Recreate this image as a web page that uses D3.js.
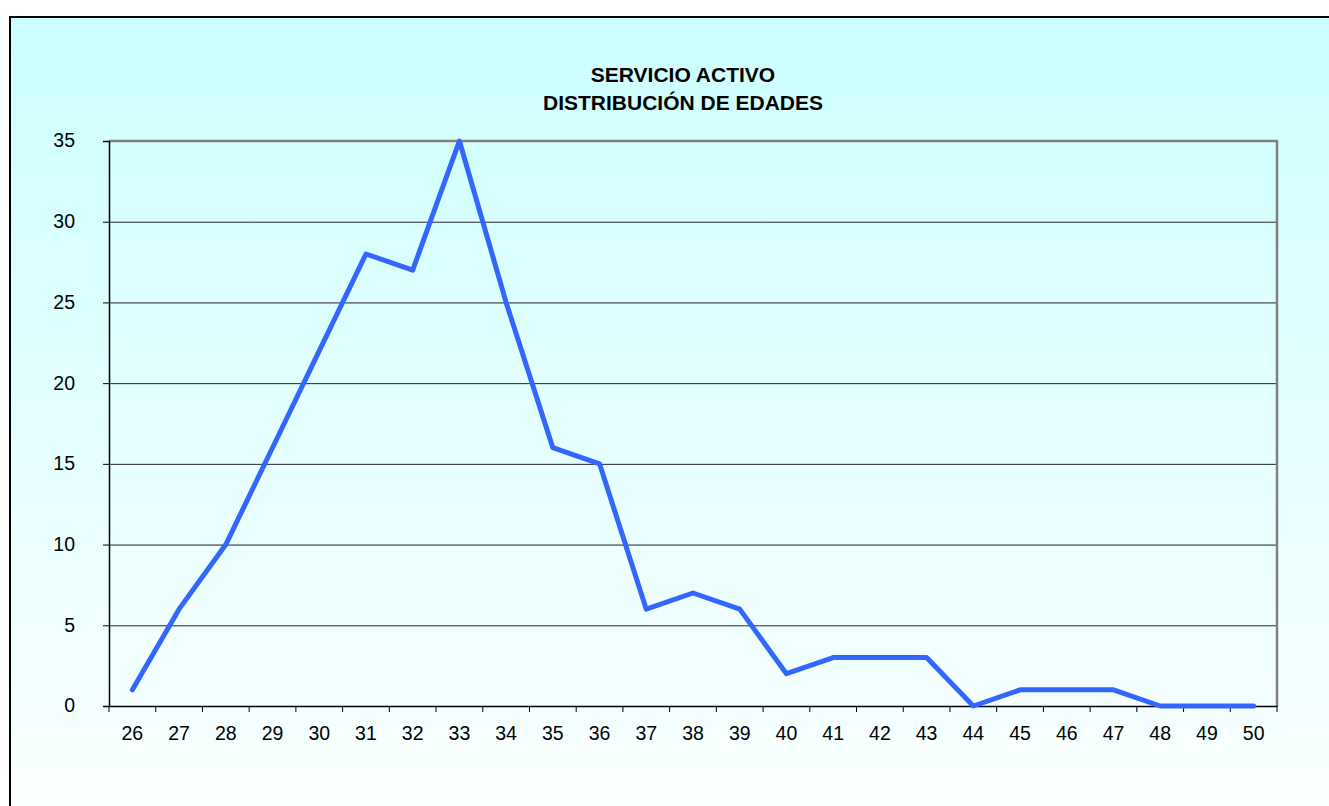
<!DOCTYPE html>
<html>
<head>
<meta charset="utf-8">
<script src="https://cdn.jsdelivr.net/npm/d3@7"></script>
<style>
    body { margin: 0; background: #ffffff; }
    svg { display: block; }
</style>
</head>
<body>
<svg id="main"></svg>
<script>
const width = 1329;
const height = 806;

// DATA -------------------------------------------
const ages = ['26', '27', '28', '29', '30', '31', '32', '33', '34', '35', '36', '37', '38',
    '39', '40', '41', '42', '43', '44', '45', '46', '47', '48', '49', '50'];
const counts = [1, 6, 10, 16, 22, 28, 27, 35, 25, 16, 15, 6, 7,
    6, 2, 3, 3, 3, 0, 1, 1, 1, 0, 0, 0];
const yTicks = [0, 5, 10, 15, 20, 25, 30, 35];
const titleLines = ['SERVICIO ACTIVO', 'DISTRIBUCIÓN DE EDADES'];

const plot = { left: 109, right: 1277, top: 141, bottom: 706 };
const font = '"Liberation Sans", Arial, sans-serif';
const tickFont = '19.5px';

const svg = d3.select('svg#main')
    .attr('width', width)
    .attr('height', height);

// background gradient
const defs = svg.append('defs');
const grad = defs.append('linearGradient')
    .attr('id', 'bg')
    .attr('x1', 0).attr('y1', 0).attr('x2', 0).attr('y2', 1);
grad.append('stop').attr('offset', '0%').attr('stop-color', '#CCFFFF');
grad.append('stop').attr('offset', '100%').attr('stop-color', '#FCFFFF');

svg.append('rect')
    .attr('x', 10).attr('y', 17)
    .attr('width', width + 20).attr('height', height)
    .attr('fill', 'url(#bg)')
    .attr('stroke', '#000')
    .attr('stroke-width', 2);

// title
svg.append('text')
    .attr('x', 683)
    .attr('y', 81.5)
    .attr('text-anchor', 'middle')
    .style('font-family', font)
    .style('font-weight', 'bold')
    .style('font-size', '21px')
    .selectAll('tspan')
    .data(titleLines).enter()
    .append('tspan')
    .attr('x', 683)
    .attr('dy', (d, i) => i === 0 ? 0 : 28.5)
    .text(d => d);

// scales
const x = d3.scaleBand()
    .domain(ages)
    .range([plot.left, plot.right]);

const y = d3.scaleLinear()
    .domain([0, 35])
    .range([plot.bottom, plot.top]);

// gridlines
svg.append('g')
    .selectAll('line')
    .data(yTicks.filter(d => d > 0 && d < 35)).enter()
    .append('line')
    .attr('x1', plot.left).attr('x2', plot.right)
    .attr('y1', d => y(d) + 0.5).attr('y2', d => y(d) + 0.5)
    .attr('stroke', '#222')
    .attr('stroke-width', 1);

// plot frame (top and right gray)
svg.append('path')
    .attr('d', `M${plot.left},${plot.top}H${plot.right}V${plot.bottom}`)
    .attr('fill', 'none')
    .attr('stroke', '#808080')
    .attr('stroke-width', 2.5);

// y axis
const yAxis = svg.append('g')
    .attr('transform', `translate(${plot.left},0)`)
    .call(d3.axisLeft(y).tickValues(yTicks).tickSize(6).tickPadding(28));
yAxis.select('.domain').attr('stroke', '#000').attr('stroke-width', 1.5);
yAxis.selectAll('.tick line').attr('stroke', '#000');
yAxis.selectAll('text')
    .style('font-family', font)
    .style('font-size', tickFont)
    .attr('fill', '#000')
    .attr('text-anchor', 'end')
    .attr('dy', '0.3em');

// x axis
const xAxis = svg.append('g')
    .attr('transform', `translate(0,${plot.bottom})`)
    .call(d3.axisBottom(x).tickSize(0).tickPadding(20));
xAxis.select('.domain').attr('stroke', '#000').attr('stroke-width', 1.5);
xAxis.selectAll('text')
    .style('font-family', font)
    .style('font-size', tickFont)
    .attr('fill', '#000');

// x tick marks at category boundaries
svg.append('g')
    .selectAll('line')
    .data(d3.range(ages.length + 1)).enter()
    .append('line')
    .attr('x1', i => plot.left + i * x.step())
    .attr('x2', i => plot.left + i * x.step())
    .attr('y1', plot.bottom)
    .attr('y2', plot.bottom + 6)
    .attr('stroke', '#000');

// series line
const line = d3.line()
    .x((d, i) => x(ages[i]) + x.bandwidth() / 2)
    .y(d => y(d));

svg.append('path')
    .datum(counts)
    .attr('d', line)
    .attr('fill', 'none')
    .attr('stroke', '#3366FF')
    .attr('stroke-width', 5)
    .attr('stroke-linejoin', 'round')
    .attr('stroke-linecap', 'round');
</script>
</body>
</html>
